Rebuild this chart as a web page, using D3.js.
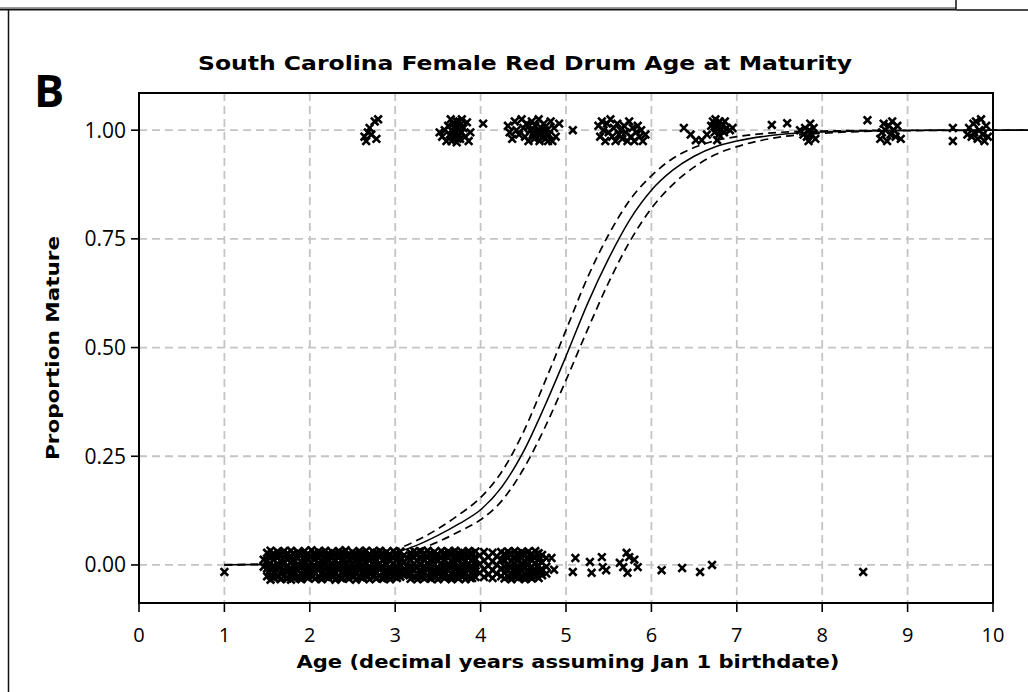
<!DOCTYPE html>
<html><head><meta charset="utf-8">
<script src="https://cdn.jsdelivr.net/npm/d3@7"></script>
<style>body{margin:0;background:#fff}svg{display:block}</style>
</head><body>
<svg id="c" width="1028" height="692"></svg>
<script>
// ---------- data ----------
const title = "South Carolina Female Red Drum Age at Maturity";
const xLabel = "Age (decimal years assuming Jan 1 birthdate)";
const yLabel = "Proportion Mature";
const panelLabel = "B";
const xTicks = [0,1,2,3,4,5,6,7,8,9,10];
const yTicks = [0,0.25,0.5,0.75,1];
const yTickLabels = ["0.00","0.25","0.50","0.75","1.00"];

// fitted maturity curve and its confidence band
const curveAge = [1.0,1.5,2.0,2.5,3.0,3.25,3.5,3.75,4.0,4.25,4.5,4.75,5.0,5.25,5.5,5.75,6.0,6.25,6.5,6.75,7.0,7.5,8.0,9.0,10.0,10.45];
const fitP   = [0.0005,0.0012,0.003,0.008,0.028,0.045,0.068,0.095,0.127,0.18,0.26,0.365,0.48,0.60,0.705,0.795,0.862,0.908,0.94,0.962,0.975,0.99,0.996,0.9994,0.9999,1];
const upperP = [0.0008,0.0018,0.0045,0.011,0.035,0.056,0.083,0.116,0.155,0.215,0.305,0.42,0.54,0.66,0.76,0.84,0.895,0.935,0.96,0.976,0.985,0.995,0.998,0.9998,1,1];
const lowerP = [0.0003,0.0008,0.002,0.005,0.020,0.034,0.053,0.077,0.104,0.148,0.22,0.315,0.425,0.54,0.65,0.745,0.82,0.875,0.915,0.944,0.962,0.984,0.993,0.999,0.9998,1];

// mature fish (plotted near 1 with vertical jitter): [age, plotted value]
const mature = [
 [2.64,0.985],[2.66,0.975],[2.68,0.995],[2.70,1.005],[2.72,0.99],[2.76,1.02],[2.78,0.98],[2.80,1.025],
 [3.52,0.995],[3.55,0.985],[3.58,1.00],[3.60,0.975],[3.62,1.01],[3.64,0.99],[3.65,1.025],[3.66,0.975],[3.66,1.0],
 [3.68,1.015],[3.68,0.995],[3.69,0.99],[3.70,1.005],[3.70,0.985],[3.71,1.01],[3.72,1.02],[3.72,0.972],[3.73,0.98],
 [3.74,1.0],[3.74,0.99],[3.75,1.02],[3.76,1.012],[3.76,0.98],[3.78,1.025],[3.78,0.995],[3.80,1.005],[3.82,0.985],
 [3.84,1.018],[3.86,0.975],[3.88,0.995],[4.03,1.015],
 [4.32,1.01],[4.34,0.995],[4.37,0.98],[4.40,1.02],[4.42,1.0],[4.45,0.99],[4.48,1.025],[4.50,1.005],[4.52,0.985],
 [4.54,1.015],[4.56,0.975],[4.57,1.01],[4.58,1.0],[4.60,1.02],[4.61,0.99],[4.62,0.995],[4.63,0.98],[4.64,1.01],
 [4.66,0.995],[4.67,1.0],[4.68,1.025],[4.69,0.975],[4.70,0.99],[4.71,1.005],[4.72,0.985],[4.73,0.995],[4.74,1.015],
 [4.75,1.0],[4.76,0.98],[4.77,0.99],[4.78,1.0],[4.79,0.975],[4.80,0.99],[4.82,1.02],[4.84,0.975],[4.86,1.005],
 [4.88,0.985],[4.92,1.015],[5.08,1.0],
 [5.38,1.01],[5.40,0.985],[5.42,1.02],[5.44,1.0],[5.46,0.975],[5.48,1.015],[5.50,0.995],[5.52,1.025],[5.54,0.985],
 [5.56,1.005],[5.58,0.975],[5.60,1.015],[5.62,0.99],[5.64,1.0],[5.66,0.98],[5.68,1.01],[5.70,0.995],[5.72,0.975],
 [5.74,1.02],[5.76,0.985],[5.78,1.005],[5.80,0.975],[5.82,0.995],[5.84,1.01],[5.86,0.985],[5.88,1.0],[5.90,0.975],[5.93,0.99],
 [6.38,1.005],[6.46,0.99],[6.52,0.977],[6.59,0.977],[6.65,0.99],[6.70,1.01],[6.72,1.02],[6.74,0.995],[6.75,1.025],
 [6.76,1.005],[6.77,0.977],[6.78,1.015],[6.79,0.99],[6.80,1.02],[6.81,1.0],[6.83,1.01],[6.85,0.995],[6.86,1.02],
 [6.88,1.005],[6.92,1.0],[6.95,1.005],[7.41,1.012],[7.59,1.016],
 [7.74,1.0],[7.78,0.99],[7.80,1.005],[7.82,0.985],[7.84,0.975],[7.85,1.0],[7.86,1.015],[7.88,0.99],[7.90,1.005],[7.92,0.98],
 [8.53,1.023],
 [8.68,0.98],[8.70,0.995],[8.72,1.015],[8.74,1.0],[8.76,0.975],[8.78,1.01],[8.80,0.99],[8.82,1.02],[8.84,1.0],
 [8.86,0.985],[8.88,1.01],[8.92,0.98],
 [9.53,1.005],[9.53,0.975],
 [9.70,0.99],[9.72,1.005],[9.75,0.985],[9.77,1.015],[9.78,0.995],[9.80,1.02],[9.82,0.98],[9.84,1.0],[9.86,1.025],
 [9.88,0.99],[9.90,0.975],[9.92,1.01],[9.94,0.985]
];

// immature fish, dense band: [age, [plotted values near 0]]
const immatureBand = [
 [1.46,[0.012,-0.004]],
 [1.50,[0.028,0.010,-0.008,-0.026]],
 [1.54,[0.033,0.019,0.004,-0.010,-0.024,-0.034]],
 [1.58,[0.026,0.012,-0.003,-0.017,-0.030]],
 [1.62,[0.031,0.017,0.002,-0.012,-0.027]],
 [1.66,[0.024,0.009,-0.005,-0.020,-0.033]],
 [1.70,[0.032,0.018,0.004,-0.011,-0.025]],
 [1.74,[0.027,0.012,-0.002,-0.016,-0.031]],
 [1.78,[0.033,0.020,0.006,-0.008,-0.022,-0.034]],
 [1.82,[0.025,0.011,-0.004,-0.018,-0.029]],
 [1.86,[0.030,0.015,0.001,-0.013,-0.027]],
 [1.90,[0.023,0.008,-0.006,-0.021,-0.033]],
 [1.94,[0.032,0.018,0.003,-0.011,-0.025]],
 [1.98,[0.026,0.013,-0.001,-0.015,-0.030]],
 [2.02,[0.034,0.020,0.005,-0.009,-0.023]],
 [2.06,[0.028,0.014,-0.002,-0.017,-0.032]],
 [2.10,[0.031,0.016,0.002,-0.012,-0.026]],
 [2.14,[0.024,0.010,-0.005,-0.019,-0.033]],
 [2.18,[0.033,0.019,0.004,-0.010,-0.024]],
 [2.22,[0.027,0.012,-0.003,-0.016,-0.030]],
 [2.26,[0.030,0.016,0.001,-0.013,-0.028]],
 [2.30,[0.025,0.009,-0.006,-0.020,-0.034]],
 [2.34,[0.032,0.018,0.003,-0.011,-0.025]],
 [2.38,[0.028,0.013,-0.002,-0.016,-0.031]],
 [2.42,[0.034,0.020,0.006,-0.008,-0.022]],
 [2.46,[0.026,0.011,-0.004,-0.018,-0.032]],
 [2.50,[0.030,0.015,0.000,-0.014,-0.027]],
 [2.54,[0.024,0.009,-0.006,-0.021,-0.034]],
 [2.58,[0.032,0.017,0.003,-0.012,-0.025]],
 [2.62,[0.027,0.013,-0.002,-0.016,-0.030]],
 [2.66,[0.033,0.019,0.005,-0.009,-0.023]],
 [2.70,[0.025,0.010,-0.005,-0.019,-0.033]],
 [2.74,[0.031,0.016,0.002,-0.013,-0.027]],
 [2.78,[0.028,0.012,-0.003,-0.017,-0.031]],
 [2.82,[0.033,0.018,0.004,-0.010,-0.024]],
 [2.86,[0.026,0.011,-0.004,-0.018,-0.032]],
 [2.90,[0.030,0.015,0.001,-0.014,-0.028]],
 [2.94,[0.024,0.009,-0.006,-0.020,-0.033]],
 [2.98,[0.032,0.017,0.003,-0.011,-0.025]],
 [3.02,[0.027,0.012,-0.002,-0.016,-0.030]],
 [3.06,[0.031,0.016,0.001,-0.013,-0.027]],
 [3.10,[0.022,0.006,-0.010,-0.024]],
 [3.14,[0.015,-0.005,-0.020]],
 [3.18,[0.028,0.012,-0.004,-0.020,-0.032]],
 [3.22,[0.032,0.017,0.002,-0.013,-0.027]],
 [3.26,[0.025,0.010,-0.005,-0.019,-0.033]],
 [3.30,[0.031,0.016,0.001,-0.014,-0.028]],
 [3.34,[0.027,0.012,-0.003,-0.017,-0.031]],
 [3.38,[0.033,0.018,0.004,-0.010,-0.024]],
 [3.42,[0.026,0.011,-0.004,-0.018,-0.032]],
 [3.46,[0.030,0.015,0.001,-0.014,-0.028]],
 [3.50,[0.024,0.009,-0.006,-0.020,-0.033]],
 [3.54,[0.032,0.017,0.003,-0.011,-0.025]],
 [3.58,[0.027,0.012,-0.002,-0.016,-0.030]],
 [3.62,[0.031,0.016,0.001,-0.013,-0.027]],
 [3.66,[0.025,0.010,-0.005,-0.019,-0.033]],
 [3.70,[0.033,0.018,0.004,-0.010,-0.024]],
 [3.74,[0.028,0.013,-0.002,-0.016,-0.031]],
 [3.78,[0.030,0.015,0.000,-0.014,-0.027]],
 [3.82,[0.024,0.009,-0.006,-0.021,-0.033]],
 [3.86,[0.032,0.017,0.003,-0.012,-0.025]],
 [3.90,[0.027,0.012,-0.003,-0.017,-0.030]],
 [3.94,[0.031,0.014,-0.001,-0.015,-0.028]],
 [3.99,[0.022,0.002,-0.018]],
 [4.04,[0.030,0.010,-0.010,-0.028]],
 [4.09,[0.018,-0.002,-0.022]],
 [4.14,[0.028,0.008,-0.012,-0.030]],
 [4.19,[0.020,0.000,-0.020]],
 [4.24,[0.030,0.012,-0.008,-0.026]],
 [4.28,[0.026,0.011,-0.004,-0.018,-0.031]],
 [4.32,[0.031,0.016,0.001,-0.013,-0.027]],
 [4.36,[0.025,0.010,-0.005,-0.019,-0.033]],
 [4.40,[0.032,0.017,0.003,-0.011,-0.025]],
 [4.44,[0.027,0.012,-0.002,-0.016,-0.030]],
 [4.48,[0.030,0.015,0.000,-0.014,-0.028]],
 [4.52,[0.024,0.009,-0.006,-0.020,-0.033]],
 [4.56,[0.031,0.016,0.002,-0.012,-0.026]],
 [4.60,[0.026,0.011,-0.004,-0.018,-0.031]],
 [4.64,[0.032,0.017,0.003,-0.011,-0.025]],
 [4.68,[0.027,0.012,-0.002,-0.016,-0.030]],
 [4.72,[0.023,0.006,-0.010,-0.024]],
 [4.77,[0.016,-0.004,-0.020]],
 [4.83,[0.016]],
 [4.86,[-0.011]]
];

// more immature fish filling the band between the columns above
const immatureFill = [
 [1.52,[0.018,-0.016]],[1.56,[0.024,-0.004,-0.027]],[1.60,[0.020,-0.009]],[1.64,[0.027,-0.002,-0.026]],
 [1.68,[0.014,-0.015]],[1.72,[0.022,-0.006,-0.030]],[1.76,[0.017,-0.012]],[1.80,[0.026,-0.001,-0.025]],
 [1.84,[0.020,-0.008]],[1.88,[0.027,-0.004,-0.030]],[1.92,[0.015,-0.014]],[1.96,[0.022,-0.007,-0.028]],
 [2.00,[0.018,-0.011]],[2.04,[0.025,-0.004,-0.026]],[2.08,[0.020,-0.009]],[2.12,[0.027,-0.002,-0.029]],
 [2.16,[0.015,-0.015]],[2.20,[0.022,-0.006,-0.027]],[2.24,[0.018,-0.011]],[2.28,[0.026,-0.001,-0.025]],
 [2.32,[0.020,-0.008]],[2.36,[0.027,-0.004,-0.030]],[2.40,[0.014,-0.014]],[2.44,[0.022,-0.007,-0.028]],
 [2.48,[0.018,-0.011]],[2.52,[0.025,-0.004,-0.026]],[2.56,[0.020,-0.009]],[2.60,[0.027,-0.002,-0.029]],
 [2.64,[0.015,-0.015]],[2.68,[0.022,-0.006,-0.027]],[2.72,[0.018,-0.011]],[2.76,[0.026,-0.001,-0.025]],
 [2.80,[0.020,-0.008]],[2.84,[0.027,-0.004,-0.030]],[2.88,[0.014,-0.014]],[2.92,[0.022,-0.007,-0.028]],
 [2.96,[0.018,-0.011]],[3.00,[0.025,-0.004,-0.026]],[3.04,[0.020,-0.009]],[3.08,[0.014,-0.016]],
 [3.20,[0.020,-0.010]],[3.24,[0.026,-0.004,-0.028]],[3.28,[0.016,-0.013]],[3.32,[0.023,-0.006,-0.026]],
 [3.36,[0.019,-0.010]],[3.40,[0.026,-0.002,-0.029]],[3.44,[0.015,-0.015]],[3.48,[0.022,-0.007,-0.027]],
 [3.52,[0.018,-0.011]],[3.56,[0.025,-0.003,-0.026]],[3.60,[0.020,-0.009]],[3.64,[0.027,-0.002,-0.029]],
 [3.68,[0.015,-0.014]],[3.72,[0.022,-0.006,-0.027]],[3.76,[0.018,-0.011]],[3.80,[0.026,-0.001,-0.025]],
 [3.84,[0.020,-0.008]],[3.88,[0.027,-0.004,-0.030]],[3.92,[0.016,-0.013]],
 [4.30,[0.020,-0.010]],[4.34,[0.026,-0.004,-0.028]],[4.38,[0.016,-0.013]],[4.42,[0.023,-0.006,-0.026]],
 [4.46,[0.019,-0.010]],[4.50,[0.026,-0.002,-0.029]],[4.54,[0.015,-0.015]],[4.58,[0.022,-0.007,-0.027]],
 [4.62,[0.018,-0.011]],[4.66,[0.025,-0.003,-0.026]],[4.70,[0.016,-0.012]]
];

// immature fish, isolated points: [age, plotted value]
const immatureSparse = [
 [1.00,-0.016],
 [5.08,-0.016],[5.11,0.016],[5.28,0.007],[5.30,-0.018],[5.42,0.018],[5.43,-0.005],[5.47,-0.012],
 [5.63,0.005],[5.67,-0.005],[5.71,0.028],[5.72,-0.018],[5.74,0.018],[5.80,0.012],[5.84,-0.005],
 [6.12,-0.012],[6.36,-0.007],[6.57,-0.016],[6.71,0.0],[8.48,-0.016]
];

// ---------- drawing ----------
const svg = d3.select("#c");
const L = 139, R = 993, T = 93, B = 603;
const x = d3.scaleLinear().domain([0,10]).range([L,R]);
const y = d3.scaleLinear().domain([-0.0875,1.0855]).range([B,T]);

// frame of panel / previous panel remnants
svg.append("line").attr("x1",0).attr("x2",956).attr("y1",7.5).attr("y2",7.5).attr("stroke","#9a9a9a").attr("stroke-width",1);
svg.append("line").attr("x1",0).attr("x2",956).attr("y1",9.5).attr("y2",9.5).attr("stroke","#111").attr("stroke-width",2);
svg.append("line").attr("x1",956).attr("x2",1028).attr("y1",10).attr("y2",10).attr("stroke","#111").attr("stroke-width",1.5);
svg.append("line").attr("x1",956).attr("x2",956).attr("y1",0).attr("y2",9).attr("stroke","#111").attr("stroke-width",1.5);
svg.append("line").attr("x1",8.5).attr("x2",8.5).attr("y1",10).attr("y2",692).attr("stroke","#111").attr("stroke-width",1.5);

// gridlines
const grid = svg.append("g").attr("stroke","#c4c4c4").attr("stroke-width",1.8).attr("stroke-dasharray","8,5");
grid.selectAll(".gx").data(xTicks.filter(d=>d>0&&d<10)).join("line")
  .attr("x1",d=>x(d)).attr("x2",d=>x(d)).attr("y1",T).attr("y2",B);
grid.selectAll(".gy").data(yTicks).join("line")
  .attr("x1",L).attr("x2",R).attr("y1",d=>y(d)).attr("y2",d=>y(d));

// points
const pts = [];
mature.forEach(d=>pts.push(d));
immatureBand.forEach(([a,js])=>js.forEach(j=>pts.push([a,j])));
immatureFill.forEach(([a,js])=>js.forEach(j=>pts.push([a,j])));
immatureSparse.forEach(d=>pts.push(d));
const s = 3.8;
svg.append("g").selectAll("path").data(pts).join("path")
  .attr("d",d=>{const px=x(d[0]),py=y(d[1]);return `M${px-s},${py-s}L${px+s},${py+s}M${px-s},${py+s}L${px+s},${py-s}`;})
  .attr("stroke","#000").attr("stroke-width",2.6).attr("fill","none");

// curves
const line = d3.line().x(d=>x(d[0])).y(d=>y(d[1])).curve(d3.curveMonotoneX);
const mk = arr => curveAge.map((a,i)=>[a,arr[i]]);
svg.append("path").attr("d",line(mk(upperP))).attr("fill","none").attr("stroke","#000").attr("stroke-width",1.7).attr("stroke-dasharray","8,5");
svg.append("path").attr("d",line(mk(lowerP))).attr("fill","none").attr("stroke","#000").attr("stroke-width",1.7).attr("stroke-dasharray","8,5");
svg.append("path").attr("d",line(mk(fitP))).attr("fill","none").attr("stroke","#000").attr("stroke-width",1.5);

// plot frame
svg.append("rect").attr("x",L).attr("y",T).attr("width",R-L).attr("height",B-T)
  .attr("fill","none").attr("stroke","#000").attr("stroke-width",2);

// axes ticks
const tickFont = "'Open Sans', 'DejaVu Sans', sans-serif";
const xa = svg.append("g");
xa.selectAll("line").data(xTicks).join("line")
  .attr("x1",d=>x(d)).attr("x2",d=>x(d)).attr("y1",B).attr("y2",B+9).attr("stroke","#000").attr("stroke-width",1.6);
xa.selectAll("text").data(xTicks).join("text")
  .attr("x",d=>x(d)).attr("y",642).attr("text-anchor","middle")
  .attr("font-family",tickFont).attr("font-size",20).text(d=>d);
const ya = svg.append("g");
ya.selectAll("line").data(yTicks).join("line")
  .attr("x1",L-8).attr("x2",L).attr("y1",d=>y(d)).attr("y2",d=>y(d)).attr("stroke","#000").attr("stroke-width",1.6);
ya.selectAll("text").data(yTicks).join("text")
  .attr("x",126).attr("y",d=>y(d)+7.5).attr("text-anchor","end")
  .attr("font-family",tickFont).attr("font-size",21).text((d,i)=>yTickLabels[i]);

// titles
const boldFont = "'DejaVu Sans', Verdana, sans-serif";
svg.append("text").attr("x",525).attr("y",70).attr("text-anchor","middle")
  .attr("font-family",boldFont).attr("font-weight","bold").attr("font-size",19)
  .attr("textLength",654).attr("lengthAdjust","spacingAndGlyphs").text(title);
svg.append("text").attr("x",568).attr("y",668).attr("text-anchor","middle")
  .attr("font-family",boldFont).attr("font-weight","bold").attr("font-size",18)
  .attr("textLength",543).attr("lengthAdjust","spacingAndGlyphs").text(xLabel);
svg.append("text").attr("transform","translate(59,348) rotate(-90)").attr("text-anchor","middle")
  .attr("font-family",boldFont).attr("font-weight","bold").attr("font-size",17)
  .attr("textLength",224).attr("lengthAdjust","spacingAndGlyphs").text(yLabel);
svg.append("text").attr("x",34).attr("y",107)
  .attr("font-family","'Open Sans', sans-serif").attr("font-weight","bold").attr("font-size",45).text(panelLabel);
</script>
</body></html>
